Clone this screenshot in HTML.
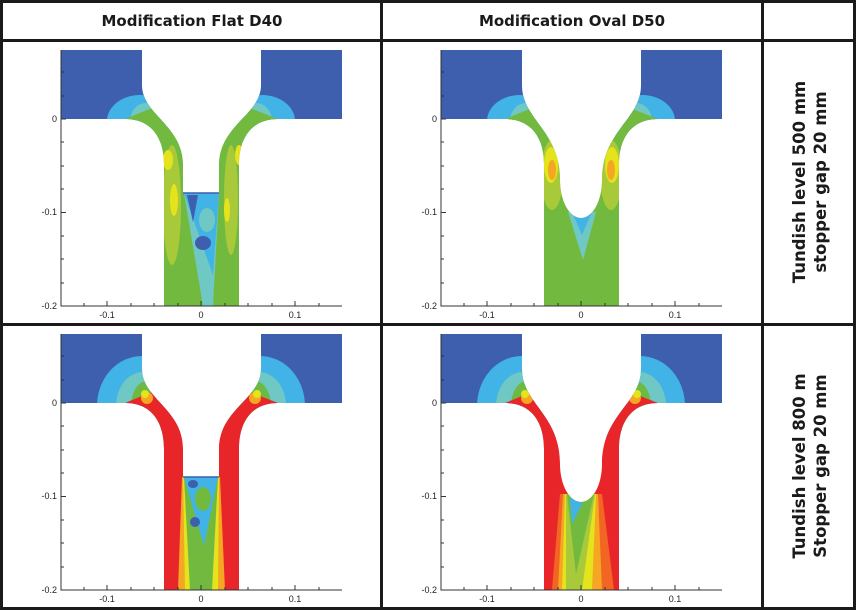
<!DOCTYPE html>
<html><head><meta charset="utf-8"><style>
html,body{margin:0;padding:0;background:#fff}
svg{display:block}
text{font-family:"Liberation Sans",sans-serif}
.h{font-family:"DejaVu Sans","Liberation Sans",sans-serif;font-weight:bold;font-size:15px;fill:#1a1a1a}
.r{font-family:"DejaVu Sans","Liberation Sans",sans-serif;font-weight:bold;font-size:16.5px;fill:#1a1a1a}
.t{font-size:9px;fill:#222}
</style></head><body>
<svg width="856" height="610" viewBox="0 0 856 610" xmlns="http://www.w3.org/2000/svg">
<defs>
<clipPath id="cf"><path d="M61,50 L142,50 L142,85 C142,115 183,125 183,165 L183,193 L219,193 L219,165 C219,125 261,115 261,85 L261,50 L342,50 L342,119 L278,119 C250,119 239,140 239,165 L239,306 L164,306 L164,165 C164,140 153,119 125,119 L61,119 Z"/></clipPath>
<clipPath id="co"><path d="M61,50 L142,50 L142,85 C142,120 180,130 180,180 A21,38 0 0 0 222,180 C222,130 261,120 261,85 L261,50 L342,50 L342,119 L278,119 C250,119 239,140 239,165 L239,306 L164,306 L164,165 C164,140 153,119 125,119 L61,119 Z"/></clipPath>
<g id="axes">
<g stroke="#333" stroke-width="1" fill="none">
<path d="M61,50 V306 H342"/>
<path d="M61,119 h5 M61,212.5 h5 M61,306 h5 M61,72 h3 M61,96 h3 M61,142 h3 M61,166 h3 M61,189 h3 M61,236 h3 M61,259 h3 M61,283 h3"/>
<path d="M107,306 v-5 M201,306 v-5 M295,306 v-5 M84,306 v-3 M131,306 v-3 M154,306 v-3 M178,306 v-3 M225,306 v-3 M248,306 v-3 M272,306 v-3 M319,306 v-3"/>
</g>
<text class="t" x="57" y="122" text-anchor="end">0</text>
<text class="t" x="57" y="215" text-anchor="end">-0.1</text>
<text class="t" x="57" y="309" text-anchor="end">-0.2</text>
<text class="t" x="107" y="318" text-anchor="middle">-0.1</text>
<text class="t" x="201" y="318" text-anchor="middle">0</text>
<text class="t" x="295" y="318" text-anchor="middle">0.1</text>
</g>
<path id="chan" d="M125,119 L152,108 L250,108 L278,119 L292,310 L112,310 Z"/>
<g id="tundTop">
<rect x="55" y="45" width="300" height="80" fill="#3d5fae"/>
<ellipse cx="140" cy="121" rx="33" ry="26" fill="#41b3e6"/>
<ellipse cx="262" cy="121" rx="33" ry="26" fill="#41b3e6"/>
<ellipse cx="146" cy="121" rx="16" ry="18" fill="#70c8c4"/>
<ellipse cx="256" cy="121" rx="16" ry="18" fill="#70c8c4"/>
</g>
<g id="tundBot">
<rect x="55" y="45" width="300" height="80" fill="#3d5fae"/>
<ellipse cx="142" cy="122" rx="45" ry="50" fill="#41b3e6"/>
<ellipse cx="260" cy="122" rx="45" ry="50" fill="#41b3e6"/>
<ellipse cx="143" cy="122" rx="27" ry="34" fill="#70c8c4"/>
<ellipse cx="259" cy="122" rx="27" ry="34" fill="#70c8c4"/>
<ellipse cx="147" cy="122" rx="16" ry="25" fill="#6cb943"/>
<ellipse cx="255" cy="122" rx="16" ry="25" fill="#6cb943"/>
</g>
</defs>

<!-- Panel TL -->
<g clip-path="url(#cf)">
<use href="#tundTop"/>
<use href="#chan" fill="#72ba3f"/>
<ellipse cx="172" cy="205" rx="9" ry="60" fill="#a7c93a"/>
<ellipse cx="231" cy="200" rx="7" ry="55" fill="#a7c93a"/>
<ellipse cx="168" cy="160" rx="5" ry="10" fill="#e4e31c"/>
<ellipse cx="174" cy="200" rx="4" ry="16" fill="#e4e31c"/>
<ellipse cx="239" cy="155" rx="4" ry="10" fill="#e4e31c"/>
<ellipse cx="227" cy="210" rx="3" ry="12" fill="#e4e31c"/>
<path d="M184,193 L219,193 L213,306 L203,306 Z" fill="#70c8c4"/>
<path d="M184,193 L219,193 L213,275 Z" fill="#41b3e6"/>
<path d="M187,195 L198,195 L193,222 Z" fill="#3d5fae"/>
<ellipse cx="207" cy="220" rx="8" ry="12" fill="#70c8c4"/>
<ellipse cx="203" cy="243" rx="8" ry="7" fill="#3d5fae"/>
</g>
<path d="M183,193 H219" stroke="#3d5fae" stroke-width="1.5"/>
<use href="#axes"/>

<!-- Panel TR -->
<g transform="translate(380,0)">
<g clip-path="url(#co)">
<use href="#tundTop"/>
<use href="#chan" fill="#72ba3f"/>
<ellipse cx="172" cy="175" rx="11" ry="35" fill="#a7c93a"/>
<ellipse cx="231" cy="175" rx="11" ry="35" fill="#a7c93a"/>
<ellipse cx="171" cy="165" rx="7" ry="18" fill="#e4e31c"/>
<ellipse cx="232" cy="165" rx="7" ry="18" fill="#e4e31c"/>
<ellipse cx="172" cy="170" rx="4" ry="10" fill="#f5a623"/>
<ellipse cx="231" cy="170" rx="4" ry="10" fill="#f5a623"/>
<path d="M188,212 L216,212 L203,260 Z" fill="#70c8c4"/>
<path d="M192,212 L212,212 L202,235 Z" fill="#41b3e6"/>
</g>
<use href="#axes"/>
</g>

<!-- Panel BL -->
<g transform="translate(0,284)">
<g clip-path="url(#cf)">
<use href="#tundBot"/>
<use href="#chan" fill="#e8262a"/>
<ellipse cx="147" cy="114" rx="6" ry="6" fill="#f5a623"/>
<ellipse cx="255" cy="114" rx="6" ry="6" fill="#f5a623"/>
<ellipse cx="145" cy="110" rx="4" ry="4" fill="#e4e31c"/>
<ellipse cx="257" cy="110" rx="4" ry="4" fill="#e4e31c"/>
<path d="M182,193 L220,193 L225,306 L178,306 Z" fill="#f5a623"/>
<path d="M183,193 L219,193 L218,306 L185,306 Z" fill="#e4e31c"/>
<path d="M184,193 L218,193 L212,306 L190,306 Z" fill="#72ba3f"/>
<path d="M184,193 L218,193 L204,262 Z" fill="#41b3e6"/>
<ellipse cx="203" cy="215" rx="8" ry="12" fill="#72ba3f"/>
<ellipse cx="193" cy="200" rx="5" ry="4" fill="#3d5fae"/>
<ellipse cx="195" cy="238" rx="5" ry="5" fill="#3d5fae"/>
</g>
<path d="M183,193 H219" stroke="#3d5fae" stroke-width="1.5"/>
<use href="#axes"/>
</g>

<!-- Panel BR -->
<g transform="translate(380,284)">
<g clip-path="url(#co)">
<use href="#tundBot"/>
<use href="#chan" fill="#e8262a"/>
<ellipse cx="147" cy="114" rx="6" ry="6" fill="#f5a623"/>
<ellipse cx="255" cy="114" rx="6" ry="6" fill="#f5a623"/>
<ellipse cx="145" cy="110" rx="4" ry="4" fill="#e4e31c"/>
<ellipse cx="257" cy="110" rx="4" ry="4" fill="#e4e31c"/>
<path d="M180,210 L222,210 L234,306 L172,306 Z" fill="#f26522"/>
<path d="M183,210 L218,210 L222,306 L178,306 Z" fill="#f5a623"/>
<path d="M185,210 L216,210 L212,306 L182,306 Z" fill="#e4e31c"/>
<path d="M186,210 L215,210 L202,306 L186,306 Z" fill="#a7c93a"/>
<path d="M187,210 L214,210 L196,290 Z" fill="#72ba3f"/>
<path d="M190,214 L205,214 L192,240 Z" fill="#41b3e6"/>
</g>
<use href="#axes"/>
</g>

<g fill="#1a1a1a">
<rect x="0" y="0" width="856" height="3"/>
<rect x="0" y="607" width="856" height="3"/>
<rect x="0" y="0" width="3" height="610"/>
<rect x="853" y="0" width="3" height="610"/>
<rect x="380" y="0" width="3" height="610"/>
<rect x="761" y="0" width="3" height="610"/>
<rect x="0" y="39" width="856" height="3"/>
<rect x="0" y="323" width="856" height="3"/>
</g>
<text class="h" x="192" y="26" text-anchor="middle">Modification Flat D40</text>
<text class="h" x="572" y="26" text-anchor="middle">Modification Oval D50</text>
<g transform="translate(808,182) rotate(-90)">
<text class="r" x="0" y="-3" text-anchor="middle">Tundish level 500 mm</text>
<text class="r" x="0" y="18" text-anchor="middle">stopper gap 20 mm</text>
</g>
<g transform="translate(808,466) rotate(-90)">
<text class="r" x="0" y="-3" text-anchor="middle">Tundish level 800 m</text>
<text class="r" x="0" y="18" text-anchor="middle">Stopper gap 20 mm</text>
</g>
</svg>
</body></html>
